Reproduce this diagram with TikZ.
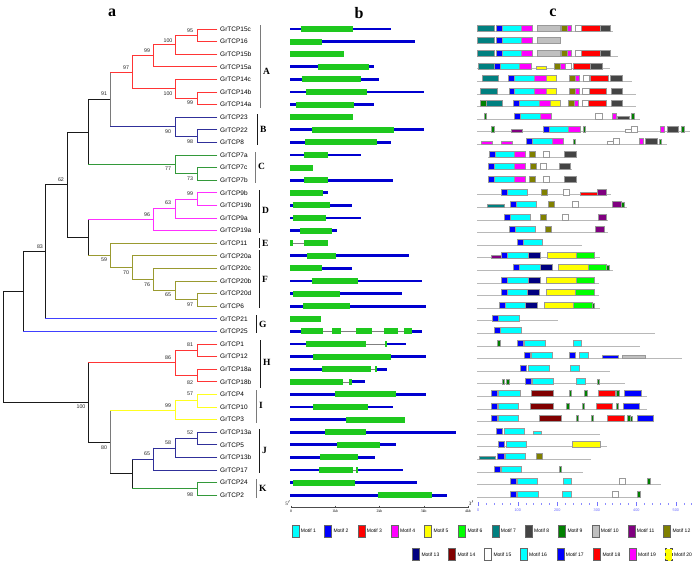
\documentclass[tikz,border=0pt]{standalone}
\usepackage{fontspec}
\setmainfont{Liberation Serif}
\setsansfont{Liberation Sans}
\definecolor{cA}{HTML}{FF3535}
\definecolor{cB}{HTML}{30309A}
\definecolor{cC}{HTML}{33993A}
\definecolor{cD}{HTML}{FF30FF}
\definecolor{cF}{HTML}{9A9A30}
\definecolor{cG}{HTML}{4040FF}
\definecolor{cH}{HTML}{FF3535}
\definecolor{cI}{HTML}{FFFF20}
\definecolor{cJ}{HTML}{30309A}
\definecolor{cK}{HTML}{33993A}
\definecolor{cGr}{HTML}{7A7A7A}
\definecolor{cBk}{HTML}{1A1A1A}
\definecolor{gblue}{HTML}{0000D0}
\definecolor{ggreen}{HTML}{1EC81E}
\definecolor{m1}{HTML}{00FFFF}
\definecolor{m2}{HTML}{0000FF}
\definecolor{m3}{HTML}{FF0000}
\definecolor{m4}{HTML}{FF00FF}
\definecolor{m5}{HTML}{FFFF00}
\definecolor{m6}{HTML}{00FF00}
\definecolor{m7}{HTML}{008080}
\definecolor{m8}{HTML}{444444}
\definecolor{m9}{HTML}{008000}
\definecolor{m10}{HTML}{C0C0C0}
\definecolor{m11}{HTML}{800080}
\definecolor{m12}{HTML}{808000}
\definecolor{m13}{HTML}{000080}
\definecolor{m14}{HTML}{800000}
\definecolor{m15}{HTML}{FFFFFF}
\definecolor{m16}{HTML}{00FFFF}
\definecolor{m17}{HTML}{0000FF}
\definecolor{m18}{HTML}{FF0000}
\definecolor{m19}{HTML}{FF00FF}
\definecolor{m20}{HTML}{FFFF00}
\newcommand\clade[6]{%
  \draw[br,#1] (#2 |- #3) -- (#2 |- #5);
  \draw[br,#4] (#2 |- #3) -- (#3);
  \draw[br,#6] (#2 |- #5) -- (#5);}
\newcommand\genrow[2]{%
  \pgfmathsetmacro\yy{29+12.6*#1}%
  \foreach \tp/\xa/\xb in {#2}{\draw[seg\tp] (\xa,\yy) -- (\xb,\yy);}}
\newcommand\motrow[4]{%
  \pgfmathsetmacro\yy{29+12.6*#1}%
  \draw[cline] (#2,\yy+2) -- (#3,\yy+2);
  \foreach \cc/\xa/\xb/\hh in {#4}{\filldraw[mbox,fill=\cc] (\xa,\yy-\hh) rectangle (\xb,\yy+2);}}
\begin{document}
\begin{tikzpicture}[x=1pt,y=-1pt,
  br/.style={line width=0.9pt, line cap=rect},
  leaf/.style={anchor=west, inner xsep=3pt, inner ysep=0pt, font=\sffamily\fontsize{6.5}{7}\selectfont},
  boot/.style={inner sep=0pt, font=\sffamily\fontsize{5.3}{6}\selectfont, text=black!85},
  cbar/.style={line width=0.8pt},
  clab/.style={anchor=west, inner sep=0pt, font=\rmfamily\bfseries\fontsize{9.5}{10}\selectfont},
  plab/.style={inner sep=0pt, font=\rmfamily\bfseries\fontsize{16}{17}\selectfont},
  segb/.style={draw=gblue, line width=2.8pt},
  segg/.style={draw=ggreen, line width=6pt},
  segi/.style={draw=gray, line width=0.6pt},
  cline/.style={draw=black!28, line width=0.8pt},
  mbox/.style={draw=black!40, line width=0.4pt},
  lbox/.style={draw=black!60, line width=0.5pt, minimum width=7pt, minimum height=12pt, inner sep=0pt, anchor=west},
  ltxt/.style={anchor=west, inner xsep=1.5pt, inner ysep=0pt, font=\sffamily\fontsize{5}{6}\selectfont},
  axt/.style={inner sep=0pt, font=\rmfamily\fontsize{3.8}{4}\selectfont},
  axc/.style={inner sep=0pt, text=blue!60, font=\sffamily\fontsize{3.8}{4}\selectfont}
]
\useasboundingbox (0,0) rectangle (696,563);
\fill[white] (0,0) rectangle (696,563);

% panel letters
\node[plab] (pa) at (112,13) {a};
\node[plab] (pb) at (359,13) {b};
\node[plab] (pc) at (553,13) {c};

% leaves
\foreach \n [count=\i from 0] in {15c,16,15b,15a,14c,14b,14a,23,22,8,7a,7c,7b,9b,19b,9a,19a,11,20a,20c,20b,20d,6,21,25,1,12,18a,18b,4,10,3,13a,5,13b,17,24,2}
  \node[leaf] (L\n) at (217,29+12.6*\i) {GrTCP\n};

% internal nodes
\coordinate (nA1) at (197,35.3);
\coordinate (nA2) at (175,44.75);
\coordinate (nA3) at (153,55.8);
\coordinate (nA4) at (197,98.3);
\coordinate (nA5) at (175,88.85);
\coordinate (nA) at (132,72.3);
\coordinate (nB1) at (197,136.1);
\coordinate (nB) at (175,126.65);
\coordinate (nAB) at (110,99.5);
\coordinate (nC1) at (197,173.9);
\coordinate (nC) at (175,164.45);
\coordinate (nABC) at (88,132);
\coordinate (nD1) at (197,199.1);
\coordinate (nD2) at (175,208.55);
\coordinate (nD) at (153,219.6);
\coordinate (nF1) at (197,299.9);
\coordinate (nF2) at (175,290.45);
\coordinate (nF3) at (153,279.4);
\coordinate (nF) at (132,267.6);
\coordinate (nEF) at (110,255.4);
\coordinate (nDEF) at (88,237.5);
\coordinate (nU) at (67,184.75);
\coordinate (nUG) at (45,251.8);
\coordinate (nUG2) at (23,291.6);
\coordinate (nH1) at (197,350.3);
\coordinate (nH2) at (197,375.5);
\coordinate (nH) at (175,362.9);
\coordinate (nI1) at (197,400.7);
\coordinate (nI) at (175,410.15);
\coordinate (nJ1) at (197,438.5);
\coordinate (nJ2) at (175,447.95);
\coordinate (nJ) at (153,459);
\coordinate (nK) at (197,488.9);
\coordinate (nJK) at (132,473.9);
\coordinate (nIJK) at (110,442);
\coordinate (nL) at (88,402.5);
\coordinate (nR) at (3,347);

\clade{cA}{nA1}{L15c.west}{cA}{L16.west}{cA}
\clade{cA}{nA2}{nA1}{cA}{L15b.west}{cA}
\clade{cA}{nA3}{nA2}{cA}{L15a.west}{cA}
\clade{cA}{nA4}{L14b.west}{cA}{L14a.west}{cA}
\clade{cA}{nA5}{L14c.west}{cA}{nA4}{cA}
\clade{cA}{nA}{nA3}{cA}{nA5}{cA}
\clade{cB}{nB1}{L22.west}{cB}{L8.west}{cB}
\clade{cB}{nB}{L23.west}{cB}{nB1}{cB}
\clade{cGr}{nAB}{nA}{cA}{nB}{cB}
\clade{cC}{nC1}{L7c.west}{cC}{L7b.west}{cC}
\clade{cC}{nC}{L7a.west}{cC}{nC1}{cC}
\clade{cBk}{nABC}{nAB}{cBk}{nC}{cC}
\clade{cD}{nD1}{L9b.west}{cD}{L19b.west}{cD}
\clade{cD}{nD2}{nD1}{cD}{L9a.west}{cD}
\clade{cD}{nD}{nD2}{cD}{L19a.west}{cD}
\clade{cF}{nF1}{L20d.west}{cF}{L6.west}{cF}
\clade{cF}{nF2}{L20b.west}{cF}{nF1}{cF}
\clade{cF}{nF3}{L20c.west}{cF}{nF2}{cF}
\clade{cF}{nF}{L20a.west}{cF}{nF3}{cF}
\clade{cF}{nEF}{L11.west}{cF}{nF}{cF}
\clade{cBk}{nDEF}{nD}{cD}{nEF}{cF}
\clade{cBk}{nU}{nABC}{cBk}{nDEF}{cBk}
\clade{cBk}{nUG}{nU}{cBk}{L21.west}{cG}
\clade{cBk}{nUG2}{nUG}{cBk}{L25.west}{cG}
\clade{cH}{nH1}{L1.west}{cH}{L12.west}{cH}
\clade{cH}{nH2}{L18a.west}{cH}{L18b.west}{cH}
\clade{cH}{nH}{nH1}{cH}{nH2}{cH}
\clade{cI}{nI1}{L4.west}{cI}{L10.west}{cI}
\clade{cI}{nI}{nI1}{cI}{L3.west}{cI}
\clade{cJ}{nJ1}{L13a.west}{cJ}{L5.west}{cJ}
\clade{cJ}{nJ2}{nJ1}{cJ}{L13b.west}{cJ}
\clade{cJ}{nJ}{nJ2}{cJ}{L17.west}{cJ}
\clade{cK}{nK}{L24.west}{cK}{L2.west}{cK}
\clade{cBk}{nJK}{nJ}{cJ}{nK}{cK}
\clade{cGr}{nIJK}{nI}{cI}{nJK}{cBk}
\clade{cBk}{nL}{nH}{cH}{nIJK}{cBk}
\clade{cBk}{nR}{nUG2}{cBk}{nL}{cBk}

% bootstrap values
\foreach \v/\xx/\yy [count=\k] in {95/190/31, 100/168/41, 99/147/51, 97/126/68, 100/168/94, 99/190/103, 91/104/94, 90/168/132, 98/190/142, 77/168/169, 73/190/179, 62/61/180, 99/190/194, 63/168/203, 96/147/215, 83/40/247, 59/104/260, 70/126/273, 76/147/285, 65/168/295, 97/190/305, 81/190/345, 86/168/358, 82/190/383, 57/190/394, 100/81/407, 99/168/406, 52/190/433, 58/168/443, 65/147/454, 80/104/448, 98/190/495}
  \node[boot] (bs\k) at (\xx,\yy) {\v};

% clade bars
\foreach \L/\xx/\ya/\yb/\yl/\cl in {A/260/25/108/71/cGr, B/257/114/145/129/cBk, C/255/152/183/166/cGr, D/259/190/233/210/cBk, E/259/238/248/243/cBk, F/259/250/308/279/cBk, G/256/315/333/324/cBk, H/260/340/388/362/cBk, I/256/390/423/405/cGr, J/259/429/473/450/cBk, K/256/479/498/488/cGr}{
  \draw[cbar,\cl] (\xx,\ya) -- (\xx,\yb);
  \node[clab] (cl\L) at (\xx+3,\yl) {\L};
}

% panel b: gene structures
\begin{scope}[xshift=280pt, x=0.33333pt]
\genrow{0}{b/30/332, g/62/218}
\genrow{1}{b/30/404, g/30/125}
\genrow{2}{g/30/193}
\genrow{3}{b/30/282, g/113/267}
\genrow{4}{b/30/298, g/65/244}
\genrow{5}{b/30/432, g/78/261}
\genrow{6}{b/30/282, g/47/222}
\genrow{7}{g/30/218}
\genrow{8}{b/30/432, g/97/341}
\genrow{9}{b/30/332, g/75/292}
\genrow{10}{b/30/242, g/72/145}
\genrow{11}{g/30/100}
\genrow{12}{b/30/340, g/72/143}
\genrow{13}{b/30/143, g/30/129}
\genrow{14}{b/30/215, g/38/150}
\genrow{15}{b/30/242, g/40/137}
\genrow{16}{b/30/170, g/60/155}
\genrow{17}{g/30/38, i/38/73, g/73/143}
\genrow{18}{b/30/387, g/82/167}
\genrow{19}{b/30/215, g/30/125}
\genrow{20}{b/30/427, g/95/235}
\genrow{21}{b/30/367, g/40/180}
\genrow{22}{b/30/437, g/70/210}
\genrow{23}{g/30/122}
\genrow{24}{b/30/63, g/63/128, i/128/157, g/157/183, i/183/229, g/229/275, i/275/312, g/312/355, i/355/372, g/372/396, b/396/427}
\genrow{25}{b/30/78, g/78/258, i/258/316, g/316/320, b/320/378}
\genrow{26}{b/30/437, g/100/332}
\genrow{27}{b/30/126, g/126/272, i/272/286, g/286/290, b/290/320}
\genrow{28}{g/30/190, i/190/207, g/207/216, b/216/255}
\genrow{29}{b/30/437, g/164/349}
\genrow{30}{b/30/340, g/100/263}
\genrow{31}{b/30/198, g/198/374}
\genrow{32}{b/30/527, g/135/258}
\genrow{33}{b/30/349, g/171/300}
\genrow{34}{b/30/284, g/121/234}
\genrow{35}{b/30/118, g/118/218, i/218/228, g/228/234, b/234/370}
\genrow{36}{b/30/410, g/40/224}
\genrow{37}{b/30/500, g/293/457}
\end{scope}

% panel b axis
\draw[black!70, line width=0.6pt] (291,507.5) -- (468,507.5);
\foreach \t/\xx [count=\k] in {0/291,1kb/335.2,2kb/379.5,3kb/423.7,4kb/468}{
  \draw[black!70, line width=0.4pt] (\xx,505.5) -- (\xx,507.5);
  \node[axt] (bx\k) at (\xx,511.5) {\t};
}
\node[inner sep=0pt, font=\rmfamily\fontsize{5}{5}\selectfont] (b5) at (288,503) {5$'$};
\node[inner sep=0pt, font=\rmfamily\fontsize{5}{5}\selectfont] (b3) at (471.5,503) {3$'$};

% panel c: motifs
\begin{scope}[xshift=470pt, x=0.33333pt]
\motrow{0}{22}{430}{m7/22/72/4, m2/78/96/4, m1/96/155/4, m4/155/188/4, m10/202/270/4, m12/275/292/4, m4/292/305/4, m15/316/333/4, m3/335/390/4, m8/390/422/4}
\motrow{1}{22}{270}{m7/22/72/4, m2/78/96/4, m1/96/155/4, m4/155/188/4, m10/202/270/4}
\motrow{2}{22}{445}{m7/22/72/4, m2/78/96/4, m1/96/155/4, m4/155/188/4, m10/202/270/4, m12/275/292/4, m4/292/305/4, m15/316/333/4, m3/335/390/4, m8/390/422/4}
\motrow{3}{22}{420}{m7/24/72/4, m2/72/90/4, m1/90/148/4, m4/148/183/4, m5/198/228/1, m12/252/270/4, m4/270/285/4, m15/285/303/4, m3/309/362/4, m8/362/396/4}
\motrow{4}{22}{487}{m7/36/85/4, m2/116/133/4, m1/133/193/4, m4/193/228/4, m5/228/258/4, m12/297/315/4, m4/315/328/4, m15/339/357/4, m3/362/414/4, m8/422/457/4}
\motrow{5}{22}{497}{m7/32/81/4, m2/117/134/4, m1/134/193/4, m4/193/230/4, m5/230/260/4, m12/297/315/4, m4/315/327/4, m15/337/357/4, m3/357/410/4, m8/424/458/4}
\motrow{6}{22}{497}{m9/32/48/4, m7/48/98/4, m2/130/147/4, m1/147/207/4, m4/207/240/4, m5/240/272/4, m12/295/312/4, m4/312/325/4, m15/337/356/4, m3/356/410/4, m8/424/458/4}
\motrow{7}{22}{510}{m9/42/50/4, m2/134/152/4, m1/152/210/4, m4/210/245/4, m15/377/397/4, m4/427/440/4, m8/443/478/1, m9/484/492/4}
\motrow{8}{22}{660}{m9/65/72/4, m11/125/158/1, m2/219/237/4, m1/237/296/4, m4/296/330/4, m9/339/347/4, m15/466/483/1, m15/483/502/4, m4/570/584/4, m8/591/626/4, m9/634/642/4}
\motrow{9}{22}{590}{m4/35/68/1, m4/95/128/1, m2/170/188/4, m1/188/246/4, m4/246/280/4, m9/310/316/3, m15/412/430/1, m15/430/448/4, m4/508/521/4, m8/525/561/4, m9/567/575/3}
\motrow{10}{55}{320}{m2/57/75/4, m1/75/133/4, m4/133/167/4, m12/178/197/4, m15/220/238/4, m8/284/318/4}
\motrow{11}{55}{305}{m2/56/74/4, m1/74/132/4, m4/132/167/4, m12/180/198/4, m15/211/230/4, m8/267/302/4}
\motrow{12}{55}{320}{m2/56/73/4, m1/73/133/4, m4/133/167/4, m12/178/197/4, m15/220/238/4, m8/283/318/4}
\motrow{13}{22}{422}{m2/95/112/4, m1/112/172/4, m12/215/233/4, m15/280/298/4, m3/330/383/1, m11/383/410/4}
\motrow{14}{22}{472}{m7/52/102/1, m2/122/140/4, m1/140/200/4, m12/235/253/4, m15/307/325/4, m11/426/453/4, m9/455/462/3}
\motrow{15}{22}{413}{m2/102/120/4, m1/120/180/4, m12/210/228/4, m15/276/294/4, m11/384/410/4}
\motrow{16}{22}{413}{m2/119/137/4, m1/137/197/4, m12/225/243/4, m11/375/402/4}
\motrow{17}{22}{335}{m2/142/160/4, m1/160/218/4}
\motrow{18}{22}{390}{m11/65/95/1, m2/95/113/4, m1/113/175/4, m13/175/211/4, m5/231/319/4, m6/319/374/4}
\motrow{19}{22}{430}{m2/130/148/4, m1/148/210/4, m13/210/246/4, m5/265/355/4, m6/355/410/4, m9/410/418/3}
\motrow{20}{22}{387}{m2/93/113/4, m1/113/175/4, m13/175/211/4, m5/230/319/4, m6/319/374/4}
\motrow{21}{22}{387}{m2/93/112/4, m1/112/173/4, m13/173/209/4, m5/229/316/4, m6/316/373/4}
\motrow{22}{22}{390}{m2/87/105/4, m1/105/167/4, m13/167/203/4, m5/222/310/4, m6/310/366/4, m9/366/373/3}
\motrow{23}{22}{263}{m2/66/84/4, m1/84/147/4}
\motrow{24}{22}{555}{m2/72/92/4, m1/92/155/4}
\motrow{25}{22}{510}{m9/82/90/4, m2/141/159/4, m1/163/226/4, m16/309/335/4}
\motrow{26}{22}{636}{m2/162/180/4, m1/184/248/4, m17/298/317/4, m16/329/356/4, m17/397/446/1, m10/457/527/1}
\motrow{27}{22}{420}{m2/152/170/4, m1/174/238/4, m16/301/327/4}
\motrow{28}{22}{465}{m9/97/104/3, m9/110/117/3, m2/165/183/4, m1/187/250/4, m16/320/347/4, m9/382/389/3}
\motrow{29}{22}{530}{m2/63/82/4, m1/86/150/4, m14/183/251/4, m9/298/305/4, m9/344/352/4, m18/384/435/4, m9/440/448/4, m17/463/514/4}
\motrow{30}{22}{530}{m2/63/82/4, m1/85/146/4, m14/182/249/4, m9/290/297/4, m9/336/343/4, m18/379/427/4, m9/438/446/4, m17/459/509/4}
\motrow{31}{22}{550}{m2/63/82/4, m1/85/146/4, m14/207/275/4, m9/318/325/4, m9/364/371/4, m18/413/462/4, m9/473/480/4, m9/481/488/3, m17/502/550/4}
\motrow{32}{22}{390}{m2/80/98/4, m1/102/163/4, m16/191/215/1}
\motrow{33}{22}{410}{m2/86/104/4, m1/108/169/4, m20/307/390/4}
\motrow{34}{22}{362}{m7/27/75/1, m2/83/102/4, m1/106/167/4, m12/199/217/4}
\motrow{35}{22}{340}{m2/73/91/4, m1/94/155/4, m9/267/274/4}
\motrow{36}{22}{572}{m2/120/138/4, m1/142/203/4, m16/279/304/4, m15/448/467/4, m9/533/540/4}
\motrow{37}{22}{505}{m2/121/139/4, m1/143/205/4, m16/276/303/4, m15/427/446/4, m9/503/510/4}
\end{scope}

% panel c axis
\foreach \k in {0,...,28}{
  \draw[blue!45, line width=0.4pt] (478.3+7.9*\k,503) -- (478.3+7.9*\k,504.8);
}
\foreach \t [count=\k from 0] in {0,100,200,300,400,500}{
  \draw[blue!55, line width=0.5pt] (478.3+39.5*\k,502) -- (478.3+39.5*\k,506);
  \node[axc] (cx\k) at (478.3+39.5*\k,510) {\t};
}

% legend
\foreach \k/\xx in {1/291.7,2/324.3,3/357.7,4/391,5/424.3,6/458.3,7/491.7,8/525,9/558.3,10/591.7,11/627.7,12/663.3}{
  \node[lbox, fill=m\k] (lg\k) at (\xx,531) {};
  \node[ltxt] (lt\k) at (lg\k.east) {Motif \k};
}
\foreach \k/\xx in {13/412.3,14/448.3,15/484.3,16/520,17/556.7,18/593.3,19/629}{
  \node[lbox, fill=m\k] (lg\k) at (\xx,554.5) {};
  \node[ltxt] (lt\k) at (lg\k.east) {Motif \k};
}
\node[lbox, fill=m20, dashed, draw=black!70] (lg20) at (665,554.5) {};
\node[ltxt] (lt20) at (lg20.east) {Motif 20};
\end{tikzpicture}
\end{document}
